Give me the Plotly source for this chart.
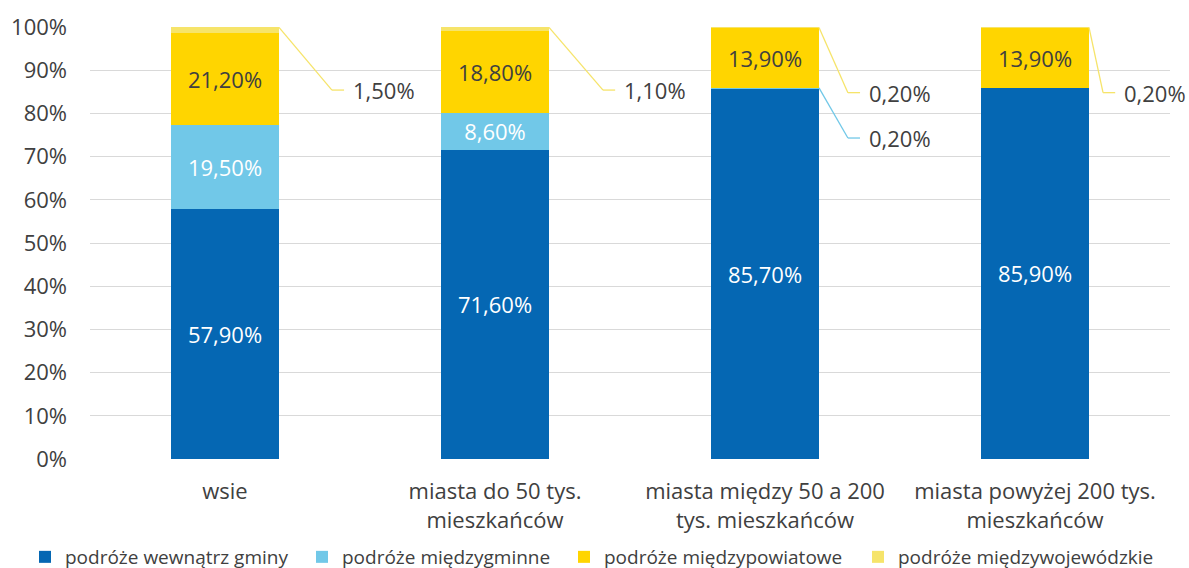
import plotly.graph_objects as go

categories = [
    "wsie",
    "miasta do 50 tys.<br>mieszkańców",
    "miasta między 50 a 200<br>tys. mieszkańców",
    "miasta powyżej 200 tys.<br>mieszkańców",
]
wewnatrz_gminy = [57.9, 71.6, 85.7, 85.9]
miedzygminne = [19.5, 8.6, 0.2, 0.0]
miedzypowiatowe = [21.2, 18.8, 13.9, 13.9]
miedzywojewodzkie = [1.5, 1.1, 0.2, 0.2]

series = [
    ("podróże wewnątrz gminy", wewnatrz_gminy, "#0567B3", "white"),
    ("podróże międzygminne", miedzygminne, "#71C8E8", "white"),
    ("podróże międzypowiatowe", miedzypowiatowe, "#FFD500", "#404040"),
    ("podróże międzywojewódzkie", miedzywojewodzkie, "#F6E46A", "#404040"),
]

FONT = "Open Sans"
TXT = "#404040"
LBL = 22
W, H = 1189, 568


def pl(v):
    return f"{v:.2f}".replace(".", ",") + "%"


legend_ids = ["legend", "legend2", "legend3", "legend4"]
legend_left_px = [25, 302, 564, 858]

fig = go.Figure()
for (name, vals, color, tcol), lid in zip(series, legend_ids):
    fig.add_trace(
        go.Bar(
            x=categories,
            y=vals,
            name=name,
            legend=lid,
            marker=dict(color=color, line=dict(width=0)),
            text=[pl(v) if v >= 5 else "" for v in vals],
            textposition="inside",
            insidetextanchor="middle",
            textangle=0,
            textfont=dict(color=tcol, size=LBL, family=FONT),
            width=0.4,
            hoverinfo="skip",
        )
    )

# callouts for the thin segments: (series index, category index, elbow dx, label y)
callouts = [
    (3, 0, 0.396, 85.4),
    (3, 1, 0.40, 85.4),
    (3, 2, 0.307, 84.8),
    (1, 2, 0.307, 74.3),
    (3, 3, 0.252, 84.8),
]
shapes = []
annotations = []
for si, ci, dx, ly in callouts:
    name, vals, color, _ = series[si]
    top = sum(s[1][ci] for s in series[: si + 1])
    y0 = min(top, 99.9)
    x0 = ci + 0.2
    shapes.append(dict(type="line", xref="x", yref="y", x0=x0, y0=y0, x1=ci + dx, y1=ly,
                       line=dict(color=color, width=1.3)))
    shapes.append(dict(type="line", xref="x", yref="y", x0=ci + dx, y0=ly, x1=ci + dx + 0.045, y1=ly,
                       line=dict(color=color, width=1.3)))
    annotations.append(dict(x=ci + dx + 0.072, y=ly, xref="x", yref="y", text=pl(vals[ci]),
                            showarrow=False, xanchor="left", yanchor="middle",
                            font=dict(size=LBL, color=TXT, family=FONT)))

legends = {}
for lid, px in zip(legend_ids, legend_left_px):
    legends[lid] = dict(
        orientation="h",
        xref="container",
        yref="container",
        x=px / W,
        xanchor="left",
        y=11 / H,
        yanchor="middle",
        font=dict(size=19, color=TXT, family=FONT),
        itemwidth=30,
        bgcolor="rgba(0,0,0,0)",
    )

fig.update_layout(
    barmode="stack",
    width=W,
    height=H,
    margin=dict(l=90, r=19, t=27, b=109, autoexpand=False),
    plot_bgcolor="white",
    paper_bgcolor="white",
    font=dict(family=FONT, color=TXT),
    shapes=shapes,
    annotations=annotations,
    showlegend=True,
    **legends,
)
fig.update_yaxes(
    range=[0, 100],
    dtick=10,
    ticksuffix="%",
    showgrid=True,
    gridcolor="#D9D9D9",
    gridwidth=1.3,
    zeroline=False,
    automargin=False,
    tickfont=dict(size=LBL, color=TXT, family=FONT),
    ticklabelstandoff=22,
)
fig.update_xaxes(
    showline=False,
    automargin=False,
    tickfont=dict(size=LBL, color=TXT, family=FONT),
    ticklabelstandoff=17,
    range=[-0.5, 3.5],
)

fig.write_html(
    "out.html",
    config={"displayModeBar": False},
    post_script="document.body.style.margin='0';",
)
